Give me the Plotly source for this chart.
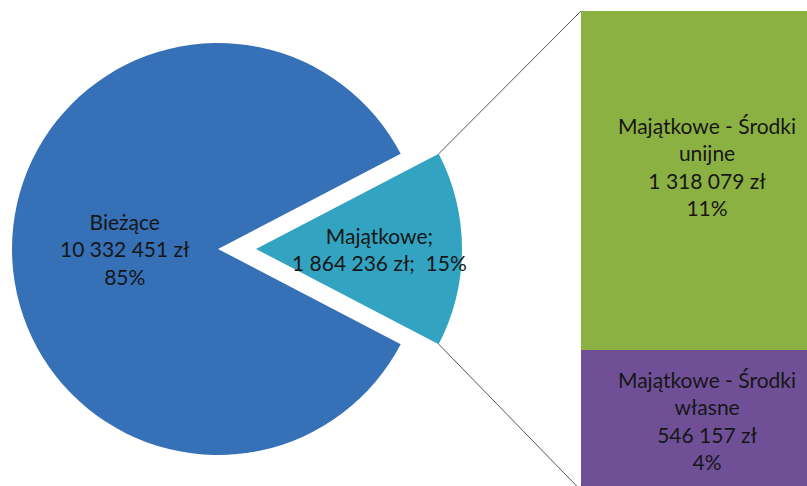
import math
import plotly.graph_objects as go

# ---- data ----
pie_labels = ["Bieżące", "Majątkowe"]
pie_values = [10332451, 1864236]
bar_labels = ["Majątkowe - Środki<br>unijne", "Majątkowe - Środki<br>własne"]
bar_values = [1318079, 546157]

# ---- layout constants (pixels) ----
W, H = 807, 486
CX, CY, R = 218, 249, 206      # pie centre and radius
PULL = 38                      # explode offset of second slice
BAR_LEFT, BAR_W = 581, 252
BAR_TOP, BAR_SPLIT = 11, 350

PIE_COLORS = ["#3670B7", "#32A3C1"]
BAR_COLORS = ["#8CB143", "#6F5097"]
FONT = dict(family="Lato, 'Open Sans', sans-serif", size=21, color="#161616")

total = sum(pie_values)


def zl(v):
    return f"{v:,}".replace(",", " ") + " zł"


def pct(v):
    return f"{round(100 * v / total)}%"


share = pie_values[1] / total
half = math.pi * share                     # half-angle of the exploded slice
rotation = 90 - 180 * share - 360 * (1 - share)
rotation = (rotation + 540) % 360 - 180

# bar value axis mapping
scale = bar_values[0] / (BAR_SPLIT - BAR_TOP)
bottom_px = BAR_SPLIT + bar_values[1] / scale


def v_of_px(p):
    return (bottom_px - p) * scale


def px_of_v(v):
    return bottom_px - v / scale


fig = go.Figure()

clear = "rgba(0,0,0,0)"


def dom(cx):
    return dict(x=[(cx - R) / W, (cx + R) / W],
                y=[1 - (CY + R) / H, 1 - (CY - R) / H])


fig.add_trace(go.Pie(labels=pie_labels, values=pie_values, sort=False,
                     direction="clockwise", rotation=rotation,
                     marker=dict(colors=[PIE_COLORS[0], clear], line=dict(width=0)),
                     textinfo="none", hoverinfo="skip", showlegend=False,
                     domain=dom(CX)))
fig.add_trace(go.Pie(labels=pie_labels, values=pie_values, sort=False,
                     direction="clockwise", rotation=rotation,
                     marker=dict(colors=[clear, PIE_COLORS[1]], line=dict(width=0)),
                     textinfo="none", hoverinfo="skip", showlegend=False,
                     domain=dom(CX + PULL)))

bar_cx = BAR_LEFT + BAR_W / 2
for i in [1, 0]:
    fig.add_trace(go.Bar(x=[bar_cx], y=[bar_values[i]], width=[BAR_W],
                         marker=dict(color=BAR_COLORS[i], line=dict(width=0)),
                         hoverinfo="skip", showlegend=False))

# connector lines
px1 = CX + PULL + R * math.cos(half)
py_top = CY - R * math.sin(half)
py_bot = CY + R * math.sin(half)
fig.add_trace(go.Scatter(x=[px1, BAR_LEFT], y=[py_top, px_of_v(sum(bar_values))],
                         mode="lines", line=dict(color="#555555", width=1),
                         yaxis="y2", hoverinfo="skip", showlegend=False))
fig.add_trace(go.Scatter(x=[px1, BAR_LEFT], y=[py_bot, px_of_v(0)],
                         mode="lines", line=dict(color="#555555", width=1),
                         yaxis="y2", hoverinfo="skip", showlegend=False))

ann = []
ann.append(dict(x=CX - 0.45 * R, y=CY,
                text=f"{pie_labels[0]}<br>{zl(pie_values[0])}<br>{pct(pie_values[0])}"))
ann.append(dict(x=CX + PULL + 0.6 * R, y=CY,
                text=f"{pie_labels[1]};<br>{zl(pie_values[1])};\u00a0 {pct(pie_values[1])}"))
ann.append(dict(x=bar_cx, y=(BAR_TOP + BAR_SPLIT) / 2 - 14,
                text=f"{bar_labels[0]}<br>{zl(bar_values[0])}<br>{pct(bar_values[0])}"))
ann.append(dict(x=bar_cx, y=(BAR_SPLIT + bottom_px) / 2,
                text=f"{bar_labels[1]}<br>{zl(bar_values[1])}<br>{pct(bar_values[1])}"))
for a in ann:
    a.update(xref="x", yref="y2", showarrow=False, font=FONT,
             xanchor="center", yanchor="middle", align="center")

fig.update_layout(
    width=W, height=H, margin=dict(l=0, r=0, t=0, b=0),
    paper_bgcolor="white", plot_bgcolor="white",
    barmode="stack", bargap=0,
    xaxis=dict(range=[0, W], visible=False, fixedrange=True),
    yaxis=dict(range=[v_of_px(H), v_of_px(0)], visible=False, fixedrange=True),
    yaxis2=dict(range=[H, 0], overlaying="y", visible=False, fixedrange=True),
    annotations=ann,
    showlegend=False,
)

fig.write_html("out.html", config={"displayModeBar": False},
               post_script="document.body.style.margin='0';document.body.style.overflow='hidden';")
